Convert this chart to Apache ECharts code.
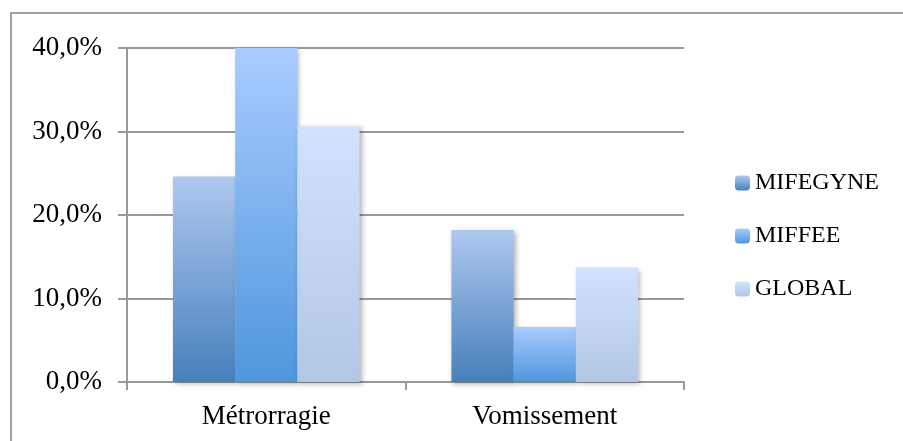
<!DOCTYPE html>
<html><head><meta charset="utf-8">
<script src="https://cdn.jsdelivr.net/npm/echarts@6/dist/echarts.min.js"></script>
<style>html,body{margin:0;padding:0;background:#fff}#c{width:903px;height:441px}</style>
</head><body><div id="c"></div>
<script>
const categories = ['Métrorragie', 'Vomissement'];
const seriesNames = ['MIFEGYNE', 'MIFFEE', 'GLOBAL'];
const mifegyne = [24.6, 18.2];
const miffee = [40.0, 6.6];
const global = [30.6, 13.7];
const yTicks = [0, 10, 20, 30, 40];

const FONT = 'Liberation Serif';
const FS = 27;
function grad(top, bottom) {
  return new echarts.graphic.LinearGradient(0, 0, 0, 1, [
    {offset: 0, color: top}, {offset: 1, color: bottom}
  ]);
}
const styles = [
  grad('#aec8f0', '#4680bb'),
  grad('#a9ccff', '#4e96dc'),
  grad('#d0e2fd', '#b2c6e6')
];
const dataSets = [mifegyne, miffee, global];

const chart = echarts.init(document.getElementById('c'), null, {renderer: 'canvas'});
chart.setOption({
  animation: false,
  backgroundColor: '#fff',
  graphic: [
    {type: 'line', shape: {x1: 11, y1: 12, x2: 11, y2: 441}, style: {stroke: '#a0a0a0', lineWidth: 2}, silent: true},
    {type: 'line', shape: {x1: 10, y1: 13, x2: 903, y2: 13}, style: {stroke: '#a0a0a0', lineWidth: 2}, silent: true}
  ],
  grid: {left: 127, right: 219, top: 48, bottom: 59},
  legend: {
    orient: 'vertical',
    left: 730,
    top: 166,
    itemWidth: 15,
    itemHeight: 15,
    itemGap: 29,
    data: seriesNames,
    textStyle: {fontFamily: FONT, fontSize: 24, color: '#000'}
  },
  xAxis: {
    type: 'category',
    data: categories,
    axisLine: {lineStyle: {color: '#999', width: 2}},
    axisTick: {show: true, length: 8, lineStyle: {color: '#999', width: 2}},
    axisLabel: {fontFamily: FONT, fontSize: FS, color: '#000', margin: 21}
  },
  yAxis: {
    type: 'value',
    min: yTicks[0],
    max: yTicks[yTicks.length - 1],
    interval: 10,
    axisLine: {show: true, lineStyle: {color: '#999', width: 2}},
    axisTick: {show: true, length: 9, lineStyle: {color: '#999', width: 2}},
    splitLine: {lineStyle: {color: '#999', width: 2}},
    axisLabel: {
      fontFamily: FONT, fontSize: FS, color: '#000', margin: 25,
      formatter: v => v.toFixed(1).replace('.', ',') + '%'
    }
  },
  series: seriesNames.map((n, i) => ({
    name: n,
    type: 'bar',
    data: dataSets[i],
    barGap: '0%',
    barCategoryGap: '33%',
    itemStyle: {
      color: styles[i],
      shadowColor: 'rgba(0,0,0,0.3)',
      shadowBlur: 5,
      shadowOffsetX: 2,
      shadowOffsetY: 2
    }
  }))
});
</script></body></html>
